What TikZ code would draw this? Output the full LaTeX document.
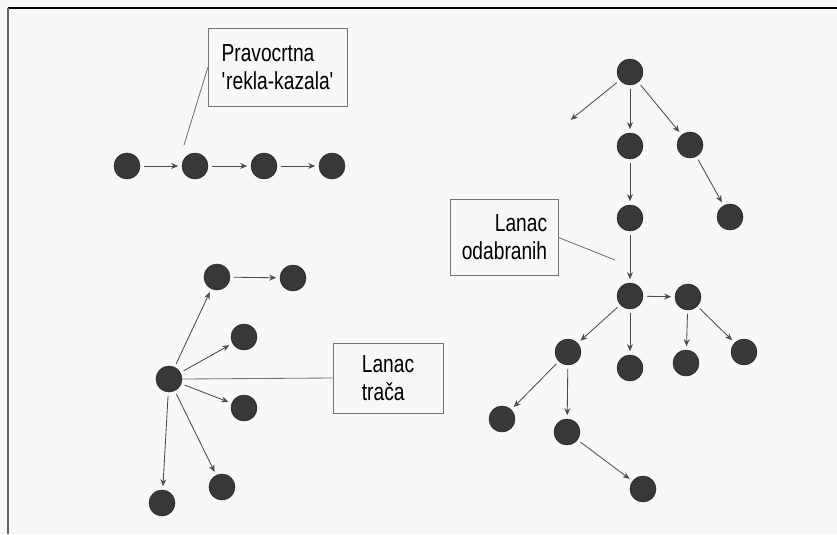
\documentclass[tikz,border=0pt]{standalone}
\usepackage{fontspec}
\setmainfont{Liberation Sans}[FakeStretch=0.78]
\usetikzlibrary{arrows.meta}
\definecolor{paper}{RGB}{246,249,247}
\tikzset{
  dot/.style={circle,fill=black!78,draw=black!85,inner sep=0pt,minimum size=0.65cm},
  arr/.style={-{Stealth[length=5pt,width=4.2pt]},draw=black!70,line width=0.6pt,
    shorten >=2.5pt,shorten <=2.5pt},
  lbl/.style={draw=black!55,line width=0.6pt,inner sep=0pt,
    font=\fontsize{17.5}{20}\selectfont},
  lead/.style={draw=black!55,line width=0.6pt}
}
\begin{document}
\begin{tikzpicture}[x=0.025cm,y=-0.025cm]
  \fill[paper] (0,0) rectangle (837,534);
  \useasboundingbox (0,0) rectangle (837,534);
  % page edge
  \draw[line width=1pt] (8,8) -- (837,8);
  \draw[black!60,line width=1.2pt] (8,8) -- (8,534);

  % straight chain
  \draw[every node/.style=dot]
    (127,166) node (c1){}
    (195,166) node (c2){}
    (264,166) node (c3){}
    (332,166) node (c4){};
  \node[lbl,align=left,minimum width=3.48cm,minimum height=1.95cm] (pk) at (278,67)
    {Pravocrtna\\\textquotesingle rekla-kazala\textquotesingle};
  \coordinate (p1) at (184,145);

  % star
  \draw[every node/.style=dot]
    (169,379) node (s){}
    (217,277) node (s1){}
    (293,278) node (s2){}
    (244,337) node (s3){}
    (244,408) node (s4){}
    (222,487) node (s5){}
    (162,503) node (s6){};
  \node[lbl,align=left,minimum width=2.75cm,minimum height=1.75cm] (lt) at (388,378)
    {Lanac\\trača};

  % tree
  \draw[every node/.style=dot]
    (630,72) node (r){}
    (630,146) node (a){}
    (690,145) node (b){}
    (630,218) node (a1){}
    (730,217) node (b1){}
    (630,296) node (f){}
    (688,297) node (g){}
    (568,352) node (h){}
    (630,368) node (f1){}
    (686,363) node (g1){}
    (744,352) node (g2){}
    (502,419) node (h1){}
    (567,432) node (h2){}
    (643,489) node (h3){};
  \coordinate (r0) at (568,122);
  \node[lbl,align=right,minimum width=2.68cm,minimum height=1.88cm] (lo) at (504.5,237.5)
    {Lanac\\odabranih};
  \coordinate (p2) at (615,260);

  \begin{scope}[arr]
    \draw (c1) to (c2);
    \draw (c2) to (c3);
    \draw (c3) to (c4);
    \draw (s) to (s1);
    \draw (s1) to (s2);
    \draw (s) to (s3);
    \draw (s) to (s4);
    \draw (s) to (s5);
    \draw (s) to (s6);
    \draw (r) to (r0);
    \draw (r) to (a);
    \draw (r) to (b);
    \draw (a) to (a1);
    \draw (b) to (b1);
    \draw (a1) to (f);
    \draw (f) to (g);
    \draw (f) to (h);
    \draw (f) to (f1);
    \draw (g) to (g1);
    \draw (g) to (g2);
    \draw (h) to (h1);
    \draw (h) to (h2);
    \draw (h2) to (h3);
  \end{scope}
  \begin{scope}[lead]
    \draw (pk.west) -- (p1);
    \draw (s.east) -- (lt.west);
    \draw (lo.east) -- (p2);
  \end{scope}
\end{tikzpicture}
\end{document}
